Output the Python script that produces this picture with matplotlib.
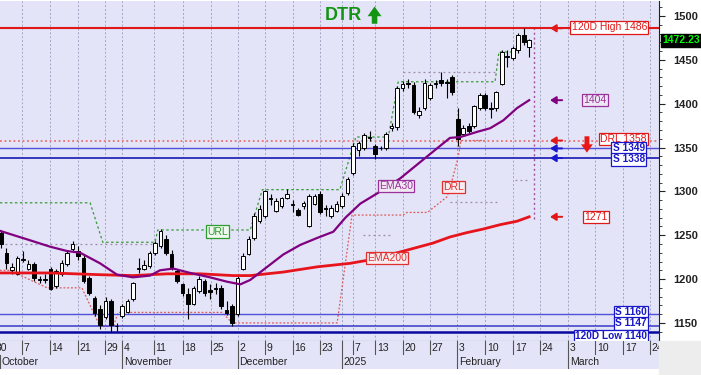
import numpy as np
import matplotlib.pyplot as plt
from matplotlib.patches import Rectangle
from matplotlib.transforms import blended_transform_factory

plt.rcParams['font.family'] = ['Liberation Sans', 'DejaVu Sans']

# daily candles, Oct 1 2024 .. Feb 21 2025
opens = [1252, 1230, 1210, 1206, 1222, 1212, 1217, 1200, 1199, 1211,
         1192, 1206, 1217, 1234, 1232, 1224, 1201, 1178, 1166, 1157,
         1175, 1146, 1158, 1163, 1177, 1211, 1212, 1215, 1230, 1238,
         1246, 1229, 1209, 1194, 1183, 1172, 1186, 1198, 1187, 1190,
         1190, 1165, 1169, 1160, 1212, 1229, 1247, 1266, 1272, 1292,
         1278, 1283, 1293, 1286, 1279, 1283, 1261, 1286, 1297, 1281,
         1272, 1278, 1283, 1298, 1321, 1347, 1349, 1361, 1352, 1349,
         1349, 1372, 1373, 1418, 1423, 1421, 1387, 1395, 1406, 1424,
         1427, 1425, 1430, 1383, 1366, 1375, 1374, 1395, 1410, 1395,
         1395, 1423, 1453, 1452, 1461, 1478, 1465]
highs = [1256, 1235, 1218, 1226, 1232, 1222, 1220, 1203, 1206, 1214,
         1212, 1222, 1232, 1243, 1238, 1228, 1203, 1181, 1170, 1180,
         1177, 1150, 1172, 1177, 1197, 1224, 1222, 1232, 1243, 1257,
         1250, 1233, 1212, 1196, 1190, 1192, 1203, 1200, 1194, 1195,
         1193, 1175, 1172, 1203, 1230, 1249, 1275, 1284, 1302, 1297,
         1292, 1294, 1303, 1290, 1281, 1289, 1297, 1297, 1301, 1284,
         1284, 1289, 1298, 1316, 1355, 1358, 1367, 1369, 1354, 1352,
         1368, 1378, 1420, 1426, 1428, 1425, 1396, 1428, 1424, 1427,
         1436, 1428, 1433, 1395, 1376, 1378, 1399, 1412, 1412, 1402,
         1415, 1461, 1461, 1466, 1481, 1486, 1474]
lows = [1236, 1212, 1206, 1205, 1220, 1210, 1198, 1196, 1196, 1187,
        1190, 1204, 1215, 1232, 1222, 1196, 1182, 1158, 1143, 1155,
        1140, 1141, 1156, 1161, 1175, 1207, 1210, 1213, 1228, 1236,
        1228, 1210, 1195, 1181, 1154, 1170, 1184, 1181, 1177, 1183,
        1166, 1159, 1147, 1158, 1210, 1227, 1245, 1264, 1270, 1284,
        1276, 1281, 1291, 1276, 1272, 1280, 1259, 1284, 1274, 1272,
        1270, 1276, 1281, 1296, 1319, 1340, 1347, 1358, 1337, 1347,
        1347, 1369, 1370, 1415, 1418, 1388, 1384, 1393, 1404, 1418,
        1420, 1406, 1410, 1352, 1364, 1367, 1372, 1393, 1393, 1384,
        1392, 1421, 1442, 1450, 1458, 1467, 1453]
closes = [1240, 1218, 1214, 1224, 1223, 1217, 1201, 1199, 1200, 1189,
          1209, 1218, 1230, 1240, 1226, 1198, 1184, 1161, 1148, 1175,
          1148, 1147, 1169, 1175, 1195, 1213, 1216, 1230, 1241, 1255,
          1230, 1213, 1198, 1184, 1172, 1190, 1200, 1184, 1185, 1189,
          1169, 1161, 1150, 1201, 1226, 1246, 1272, 1280, 1301, 1291,
          1289, 1292, 1297, 1285, 1273, 1287, 1295, 1295, 1276, 1280,
          1281, 1286, 1295, 1314, 1352, 1355, 1364, 1362, 1343, 1350,
          1366, 1375, 1418, 1423, 1424, 1390, 1392, 1424, 1421, 1423,
          1424, 1424, 1413, 1360, 1372, 1369, 1397, 1410, 1395, 1394,
          1413, 1459, 1454, 1463, 1478, 1470, 1472.23]

# moving averages (bar index, value)
ema30_x = [-0.2, 4.9, 8.9, 12.0, 14.4, 18.0, 21.1, 24.0, 27.1, 28.9, 31.3,
           34.4, 38.0, 41.1, 43.5, 45.3, 48.4, 51.3, 54.4, 57.5, 60.4, 62.6,
           65.3, 69.5, 72.6, 76.7, 81.6, 83.5, 86.6, 88.9, 91.3, 93.8, 96.0]
ema30_y = [1255, 1245, 1237, 1232, 1230, 1218, 1205, 1202, 1204, 1210, 1212,
           1207, 1202, 1197, 1194, 1199, 1214, 1228, 1239, 1247, 1254, 1270,
           1286, 1302, 1315, 1336, 1361, 1362, 1368, 1372, 1381, 1395, 1404]
ema200_x = [-0.2, 8.9, 18.0, 24.0, 30.2, 36.2, 42.2, 45.3, 51.3, 57.5, 63.5,
            67.1, 72.6, 78.5, 81.6, 84.7, 87.6, 90.7, 93.8, 96.0]
ema200_y = [1207, 1207, 1205, 1204, 1206, 1206, 1204, 1204, 1208, 1214, 1218,
            1222, 1231, 1241, 1248, 1253, 1257, 1262, 1266, 1271]

# step lines
url_x = [-0.2, 16.2, 18.5, 28.0, 28.5, 45.3, 47.5, 61.6, 64.5, 70.4, 72.2, 89.8, 90.5, 92.9]
url_y = [1287, 1287, 1242, 1242, 1256, 1256, 1302, 1302, 1362, 1362, 1425, 1425, 1459, 1459]
drl_x = [-0.2, 1.6, 8.4, 14.7, 18.0, 20.4, 21.3, 40.2, 42.0, 61.1, 63.8, 73.1,
         73.8, 77.5, 81.1, 82.0, 83.1, 83.6, 88.0]
drl_y = [1210, 1210, 1190, 1190, 1146, 1146, 1162, 1162, 1150, 1150, 1273, 1273,
         1276, 1276, 1294, 1313, 1339, 1358, 1358]
grey_segs = [((-0.2, 28.0), 1240), ((65.8, 71.3), 1250), ((81.6, 90.2), 1288),
             ((93.5, 96.2), 1313), ((73.0, 90.0), 1436)]

high_120d = 1486
low_120d = 1140
drl_level = 1358
supports = [1349, 1338, 1160, 1147]
ema30_last = 1404
ema200_last = 1271
last_close = 1472.23

week_pos = [-1.3, 3.8, 8.9, 14.0, 18.9, 22.0, 27.8, 33.0, 38.1, 43.0, 48.0, 53.0,
            58.0, 62.0, 64.0, 68.0, 73.1, 78.0, 82.9, 88.0, 93.1, 98.0, 103.1,
            108.0, 113.1, 118.0]
week_labels = ['30', '7', '14', '21', '29', '4', '11', '18', '25', '2', '9', '16',
               '23', '', '7', '13', '20', '27', '3', '10', '17', '24', '3',
               '10', '17', '24']
month_pos = [-0.2, 22.0, 43.0, 62.0, 82.9, 103.1]
month_labels = ['October', 'November', 'December', '2025', 'February', 'March']

BG = '#E3E4F7'
W, H = 701, 375


def frac(x0, y0, x1, y1):
    return [x0 / W, 1 - y1 / H, (x1 - x0) / W, (y1 - y0) / H]


fig = plt.figure(figsize=(W / 100, H / 100), dpi=100)
fig.patches.append(Rectangle((659 / W, 0), 1, 34 / H, transform=fig.transFigure,
                             color='#EDEDED', zorder=0))

ax = fig.add_axes(frac(0, 1, 659, 341))
ax.set_facecolor(BG)
ax.set_xlim(-0.18, 119.6)
ax.set_ylim(1129.4, 1517.1)

for p in week_pos:
    ax.axvline(p, color='#A4A4C2', lw=0.7, ls=(0, (2, 2)), zorder=0)

# horizontal levels
ax.axhline(high_120d, color='#E01818', lw=1.5, zorder=2)
ax.axhline(drl_level, color='#E87070', lw=1.3, ls=(0, (1, 1.5)), zorder=2)
ax.axhline(supports[0], color='#5050D8', lw=1.0, zorder=2)
ax.axhline(supports[1], color='#2828B8', lw=1.3, zorder=2)
ax.axhline(supports[2], color='#5050D8', lw=1.0, zorder=2)
ax.axhline(supports[3], color='#3838C8', lw=1.1, zorder=2)
ax.axhline(low_120d, color='#0808A0', lw=1.8, zorder=2)

for (x0, x1), v in grey_segs:
    ax.plot([x0, x1], [v, v], color='#9A8CA8', lw=0.9, ls=(0, (1.5, 2.5)), zorder=1)
ax.plot(url_x, url_y, color='#3A9A3A', lw=0.9, ls=(0, (2, 2)), zorder=1)
ax.plot(drl_x, drl_y, color='#E05A5A', lw=0.9, ls=(0, (1.5, 1.5)), zorder=1)

ax.vlines(96.9, 1268, 1490, color='#A050A0', lw=1.0, ls=(0, (1.5, 2)), zorder=1)

# candles
o = np.array(opens)
c = np.array(closes)
idx = np.arange(len(o))
up = c >= o
ax.vlines(idx, lows, highs, color='black', lw=0.8, zorder=3)
ax.bar(idx, np.maximum(np.abs(c - o), 0.9), bottom=np.minimum(o, c), width=0.68,
       color=np.where(up, 'white', 'black'), edgecolor='black', linewidth=0.7, zorder=4)

ax.plot(ema200_x, ema200_y, color='#E8141C', lw=2.0, zorder=5)
ax.plot(ema30_x, ema30_y, color='#800080', lw=1.6, zorder=5)


# in-chart labels
def tag(x, y, s, col, fc='white', ha='center', weight='normal', size=7.5):
    ax.text(x, y, s, color=col, fontsize=size, ha=ha, va='center', fontweight=weight,
            zorder=7, clip_on=False,
            bbox=dict(boxstyle='square,pad=0.12', fc=fc, ec=col, lw=0.9))


tag(39.3, 1254, 'URL', '#2E9B2E', fc='#EEF8EE')
tag(71.8, 1306, 'EMA30', '#993399', fc='#F2E8F4')
tag(82.2, 1305, 'DRL', '#E03030', fc='#F8ECF0')
tag(70.2, 1224, 'EMA200', '#E03030', fc='#F8ECF0')

ax.text(62.2, 1500, 'DTR', color='#139413', fontsize=13, fontweight='bold',
        ha='center', va='center', zorder=7)
ax.annotate('', xy=(67.9, 1514), xytext=(67.9, 1488),
            arrowprops=dict(arrowstyle='simple,head_length=0.7,head_width=1.0,tail_width=0.4',
                            color='#139413', lw=0))
ax.annotate('', xy=(106.5, 1341), xytext=(106.5, 1366),
            arrowprops=dict(arrowstyle='simple,head_length=0.6,head_width=0.85,tail_width=0.35',
                            color='#E81818', lw=0))

arrow_levels = [(high_120d, '#E01818'), (ema30_last, '#800080'), (drl_level, '#E01818'),
                (supports[0], '#1818D0'), (supports[1], '#1818D0'), (ema200_last, '#E01818')]
for v, col in arrow_levels:
    ax.annotate('', xy=(99.8, v), xytext=(102.0, v),
                arrowprops=dict(arrowstyle='-|>,head_length=0.35,head_width=0.22',
                                color=col, lw=1.4, shrinkA=0, shrinkB=0))

tag(117.4, 1487, f'120D High {high_120d}', '#E01818', ha='right')
tag(108.0, 1404, f'{ema30_last}', '#993399', fc='#EEE8F6')
tag(117.4, 1360, f'DRL {drl_level}', '#E01818', ha='right')
tag(117.0, 1349, f'S {supports[0]}', '#1818C8', ha='right', weight='bold', size=7.3)
tag(117.0, 1336.5, f'S {supports[1]}', '#1818C8', ha='right', weight='bold', size=7.3)
tag(108.2, 1271, f'{ema200_last}', '#E01818')
tag(117.4, 1162.5, f'S {supports[2]}', '#1818C8', ha='right', weight='bold', size=7.3)
tag(117.4, 1149.5, f'S {supports[3]}', '#1818C8', ha='right', weight='bold', size=7.3)
tag(117.4, 1135, f'120D Low {low_120d}', '#1818C8', ha='right', weight='bold', size=7.3)

# last price on the axis
tr = blended_transform_factory(ax.transAxes, ax.transData)
ax.text(1.005, last_close, f'{last_close:.2f}', transform=tr, color='#00FF00',
        fontsize=7.5, fontweight='bold', ha='left', va='center', zorder=8, clip_on=False,
        bbox=dict(boxstyle='square,pad=0.15', fc='black', ec='black'))

# right price axis
ax.yaxis.tick_right()
ax.set_yticks(range(1150, 1501, 50))
ax.set_yticks(range(1140, 1511, 10), minor=True)
ax.tick_params(axis='y', which='major', labelsize=8, length=4, pad=6, colors='#222222')
ax.tick_params(axis='y', which='minor', length=2, colors='#222222')
for t in ax.get_yticklabels():
    t.set_fontweight('bold')
ax.set_xticks([])
for s in ['top', 'left']:
    ax.spines[s].set_visible(False)
ax.spines['right'].set_color('#222222')
ax.spines['bottom'].set_color('#555555')

# date band
axd = fig.add_axes(frac(0, 341, 659, 369))
axd.set_facecolor(BG)
axd.set_xlim(ax.get_xlim())
axd.set_ylim(0, 1)
axd.set_xticks([])
axd.set_yticks([])
for s in axd.spines.values():
    s.set_visible(False)
for p, lbl in zip(week_pos, week_labels):
    axd.plot([p, p], [0.55, 1.0], color='#555555', lw=0.8)
    axd.text(p + 0.3, 0.74, lbl, fontsize=7.5, color='#222222', ha='left', va='center')
for p, lbl in zip(month_pos, month_labels):
    axd.plot([p, p], [0.0, 0.5], color='#555555', lw=0.8)
    axd.text(p + 0.3, 0.24, lbl, fontsize=7.5, color='#222222', ha='left', va='center')

fig.savefig('out.png', dpi=100)
